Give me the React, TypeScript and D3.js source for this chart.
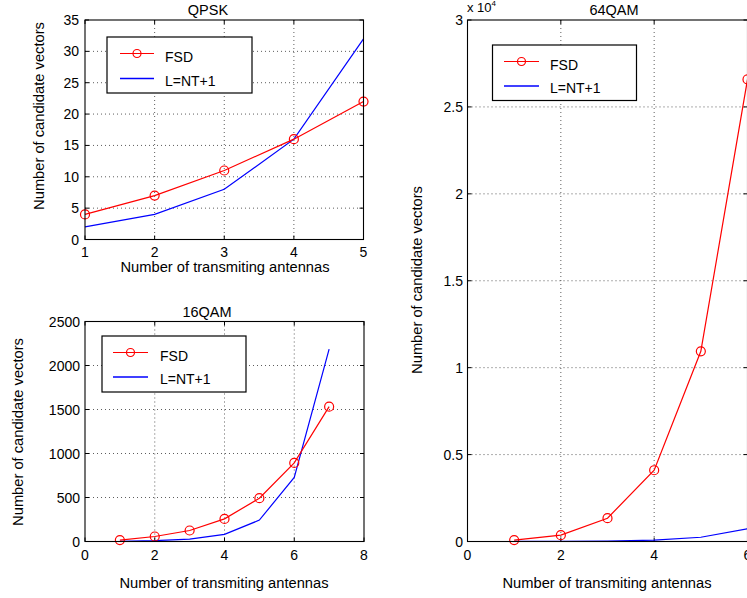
import React from "react";
import * as d3 from "d3";

// ---------- data ----------
const qpskX = [1, 2, 3, 4, 5];
const qpskFSD = [4, 7, 11, 16, 22];
const qpskL = [2, 4, 8, 16, 32];
const qpskXTicks = [1, 2, 3, 4, 5];
const qpskYTicks = [0, 5, 10, 15, 20, 25, 30, 35];

const qam16X = [1, 2, 3, 4, 5, 6, 7];
const qam16FSD = [16, 57, 125, 257, 492, 893, 1532];
const qam16L = [3, 9, 27, 81, 243, 729, 2187];
const qam16XTicks = [0, 2, 4, 6, 8];
const qam16YTicks = [0, 500, 1000, 1500, 2000, 2500];

const qam64X = [1, 2, 3, 4, 5, 6];
const qam64FSD = [80, 364, 1341, 4100, 10940, 26580];
const qam64L = [3, 9, 27, 81, 243, 729];
const qam64XTicks = [0, 2, 4, 6];
const qam64YTicks = [0, 5000, 10000, 15000, 20000, 25000, 30000];

const seriesNames = ["FSD", "L=NT+1"];
const xLabel = "Number of transmiting antennas";
const yLabel = "Number of candidate vectors";

const FONT = "'Liberation Sans', Arial, Helvetica, sans-serif";

type PanelProps = {
  title: string;
  box: { l: number; r: number; t: number; b: number };
  xDomain: [number, number];
  yDomain: [number, number];
  xTicks: number[];
  yTicks: number[];
  yFmt: (v: number) => string;
  xs: number[];
  fsd: number[];
  lnt: number[];
  titlePos: [number, number];
  xTickY: number;
  xLabelPos: [number, number];
  yLabelPos: [number, number];
  yTickX: number;
  legend: { l: number; r: number; t: number; b: number; lx1: number; lx2: number; y1: number; y2: number; tx: number };
  exponent?: [number, number];
};

function Panel(p: PanelProps) {
  const x = d3.scaleLinear().domain(p.xDomain).range([p.box.l, p.box.r]);
  const y = d3.scaleLinear().domain(p.yDomain).range([p.box.b, p.box.t]);
  const line = d3
    .line<number>()
    .x((_, i) => x(p.xs[i]))
    .y((d) => y(d));
  const tk = 4;
  const gridCol = "#333";
  const lg = p.legend;
  return (
    <g fontFamily={FONT} fontSize={14} fill="#000">
      {/* grid */}
      {p.xTicks
        .filter((v) => x(v) > p.box.l + 1 && x(v) < p.box.r - 1)
        .map((v) => (
          <line key={"gx" + v} x1={x(v)} x2={x(v)} y1={p.box.t} y2={p.box.b} stroke={gridCol} strokeWidth={0.8} strokeDasharray="1,3" />
        ))}
      {p.yTicks
        .filter((v) => y(v) > p.box.t + 1 && y(v) < p.box.b - 1)
        .map((v) => (
          <line key={"gy" + v} x1={p.box.l} x2={p.box.r} y1={y(v)} y2={y(v)} stroke={gridCol} strokeWidth={0.8} strokeDasharray="1,3" />
        ))}
      {/* ticks inside */}
      {p.xTicks.map((v) => (
        <g key={"tx" + v}>
          <line x1={x(v)} x2={x(v)} y1={p.box.b} y2={p.box.b - tk} stroke="#000" />
          <line x1={x(v)} x2={x(v)} y1={p.box.t} y2={p.box.t + tk} stroke="#000" />
        </g>
      ))}
      {p.yTicks.map((v) => (
        <g key={"ty" + v}>
          <line x1={p.box.l} x2={p.box.l + tk} y1={y(v)} y2={y(v)} stroke="#000" />
          <line x1={p.box.r} x2={p.box.r - tk} y1={y(v)} y2={y(v)} stroke="#000" />
        </g>
      ))}
      {/* series */}
      <path d={line(p.lnt) || ""} fill="none" stroke="#0000ff" strokeWidth={1.2} />
      <path d={line(p.fsd) || ""} fill="none" stroke="#ff0000" strokeWidth={1.2} />
      {p.fsd.map((v, i) => (
        <circle key={"c" + i} cx={x(p.xs[i])} cy={y(v)} r={4.5} fill="none" stroke="#ff0000" strokeWidth={1.2} />
      ))}
      {/* box */}
      <rect x={p.box.l} y={p.box.t} width={p.box.r - p.box.l} height={p.box.b - p.box.t} fill="none" stroke="#000" strokeWidth={1.1} />
      {/* tick labels */}
      {p.xTicks.map((v) => (
        <text key={"xl" + v} x={x(v)} y={p.xTickY} textAnchor="middle">
          {v}
        </text>
      ))}
      {p.yTicks.map((v) => (
        <text key={"yl" + v} x={p.yTickX} y={y(v) + 5} textAnchor="end">
          {p.yFmt(v)}
        </text>
      ))}
      {p.exponent && (
        <text x={p.exponent[0]} y={p.exponent[1]} fontSize={13}>
          x 10
          <tspan fontSize={8} dy={-6}>
            4
          </tspan>
        </text>
      )}
      {/* titles */}
      <text x={p.titlePos[0]} y={p.titlePos[1]} textAnchor="middle" fontSize={14.5}>
        {p.title}
      </text>
      <text x={p.xLabelPos[0]} y={p.xLabelPos[1]} textAnchor="middle" fontSize={14.7}>
        {xLabel}
      </text>
      <text transform={`translate(${p.yLabelPos[0]},${p.yLabelPos[1]}) rotate(-90)`} textAnchor="middle" fontSize={14.7}>
        {yLabel}
      </text>
      {/* legend */}
      <rect x={lg.l} y={lg.t} width={lg.r - lg.l} height={lg.b - lg.t} fill="#fff" stroke="#000" strokeWidth={1.2} />
      <line x1={lg.lx1} x2={lg.lx2} y1={lg.y1} y2={lg.y1} stroke="#ff0000" strokeWidth={1.2} />
      <circle cx={(lg.lx1 + lg.lx2) / 2} cy={lg.y1} r={4} fill="none" stroke="#ff0000" strokeWidth={1.2} />
      <text x={lg.tx} y={lg.y1 + 8}>
        {seriesNames[0]}
      </text>
      <line x1={lg.lx1} x2={lg.lx2} y1={lg.y2} y2={lg.y2} stroke="#0000ff" strokeWidth={1.5} />
      <text x={lg.tx} y={lg.y2 + 7}>
        {seriesNames[1]}
      </text>
    </g>
  );
}

export default function App() {
  return (
    <svg width={747} height={598} style={{ position: "absolute", left: 0, top: 0, background: "#fff" }}>
      <rect x={0} y={0} width={747} height={598} fill="#fff" />
      <Panel
        title="QPSK"
        box={{ l: 85, r: 363.5, t: 20, b: 239.5 }}
        xDomain={[1, 5]}
        yDomain={[0, 35]}
        xTicks={qpskXTicks}
        yTicks={qpskYTicks}
        yFmt={(v) => String(v)}
        xs={qpskX}
        fsd={qpskFSD}
        lnt={qpskL}
        titlePos={[208, 15]}
        xTickY={257}
        xLabelPos={[225, 272]}
        yLabelPos={[44, 116]}
        yTickX={79}
        legend={{ l: 107, r: 252, t: 37, b: 93, lx1: 120, lx2: 154, y1: 53.5, y2: 78.5, tx: 165 }}
      />
      <Panel
        title="16QAM"
        box={{ l: 85, r: 364, t: 321.5, b: 541.5 }}
        xDomain={[0, 8]}
        yDomain={[0, 2500]}
        xTicks={qam16XTicks}
        yTicks={qam16YTicks}
        yFmt={(v) => String(v)}
        xs={qam16X}
        fsd={qam16FSD}
        lnt={qam16L}
        titlePos={[207, 317]}
        xTickY={560}
        xLabelPos={[224, 588]}
        yLabelPos={[23, 432]}
        yTickX={80}
        legend={{ l: 102, r: 246, t: 336, b: 392, lx1: 113, lx2: 148, y1: 352.5, y2: 377, tx: 160 }}
      />
      <Panel
        title="64QAM"
        box={{ l: 467.5, r: 747.5, t: 20, b: 541.5 }}
        xDomain={[0, 6]}
        yDomain={[0, 30000]}
        xTicks={qam64XTicks}
        yTicks={qam64YTicks}
        yFmt={(v) => String(v / 10000)}
        xs={qam64X}
        fsd={qam64FSD}
        lnt={qam64L}
        titlePos={[614, 15]}
        xTickY={560}
        xLabelPos={[607, 588]}
        yLabelPos={[422, 280]}
        yTickX={463}
        legend={{ l: 492.5, r: 636.5, t: 45, b: 100.5, lx1: 504, lx2: 539, y1: 61.5, y2: 86, tx: 550 }}
        exponent={[467, 12]}
      />
    </svg>
  );
}
